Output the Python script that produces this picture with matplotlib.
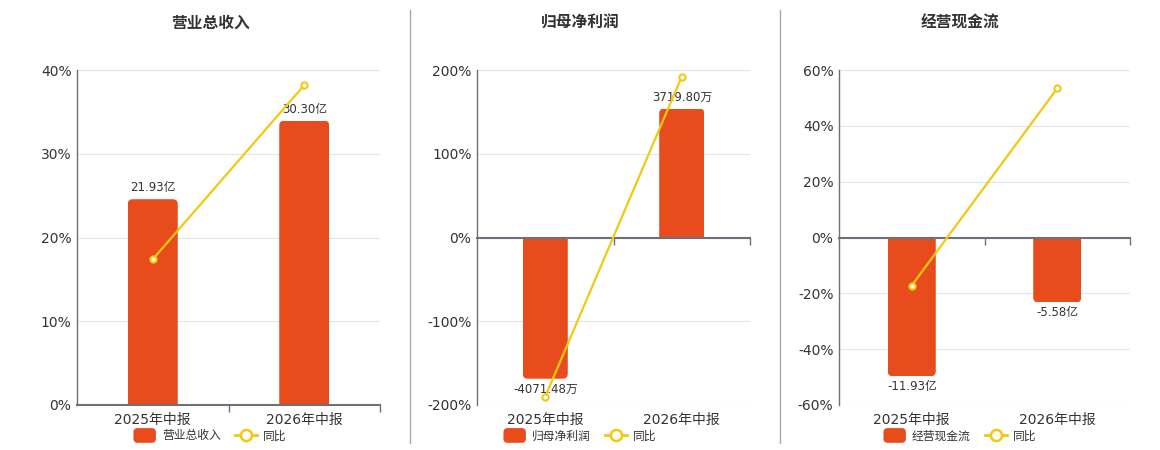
import matplotlib
matplotlib.use("Agg")
import matplotlib.pyplot as plt
from matplotlib.patches import FancyBboxPatch, Patch
from matplotlib.legend_handler import HandlerPatch
from matplotlib.lines import Line2D

plt.rcParams['font.family'] = ['DejaVu Sans', 'Noto Sans CJK SC']

# 数据
categories = ['2025年中报', '2026年中报']

revenue = [21.93, 30.30]          # 亿
revenue_yoy = [17.4, 38.2]        # %
profit = [-4071.48, 3719.80]      # 万
profit_yoy = [-190.0, 192.0]
cash = [-11.93, -5.58]            # 亿
cash_yoy = [-17.2, 53.4]

titles = ['营业总收入', '归母净利润', '经营现金流']
bar_labels = [['21.93亿', '30.30亿'], ['-4071.48万', '3719.80万'], ['-11.93亿', '-5.58亿']]
pct_ticks = [[0, 10, 20, 30, 40], [-200, -100, 0, 100, 200], [-60, -40, -20, 0, 20, 40, 60]]
pct_lims = [(0, 40), (-200, 200), (-60, 60)]
bar_lims = [(0, 35.7), (-4830, 4830), (-14.4, 14.4)]

BAR = '#E84B1C'
LINE = '#F2C811'
AXC = '#6E7079'
GRID = '#E0E6F1'
TXT = '#333333'

W, H = 1160, 450
fig = plt.figure(figsize=(W / 100, H / 100), dpi=100)

# position des axes en pixels (gauche, largeur) et centre du panneau
boxes = [(77, 303), (477, 273), (839, 291)]
centers = [210, 580, 960]
top_px, bot_px = 70, 405


def rounded_bars(axb, xs, vals, width, r_px=5):
    rects = axb.bar(xs, vals, width=width, color=BAR, alpha=0)
    p0 = axb.transData.transform((0, 0))
    p1 = axb.transData.transform((1, 1))
    sx, sy = p1[0] - p0[0], p1[1] - p0[1]
    r = r_px / sx
    ext = 2 * r_px / sy
    for rc, v in zip(rects, vals):
        x, y, w, h = rc.get_x(), rc.get_y(), rc.get_width(), rc.get_height()
        if h < 0:
            y, h = y + h, -h
        # on prolonge au-delà de zéro puis on coupe : coins carrés côté zéro
        if v >= 0:
            y, h = y - ext, h + ext
        else:
            h = h + ext
        p = FancyBboxPatch((x, y), w, h,
                           boxstyle=f'round,pad=0,rounding_size={r}',
                           mutation_aspect=sx / sy,
                           facecolor=BAR, edgecolor='none')
        axb.add_patch(p)
        p.set_clip_path(rc)
    return rects


class HandlerRound(HandlerPatch):
    def create_artists(self, legend, orig_handle, xdescent, ydescent, width, height,
                       fontsize, trans):
        p = FancyBboxPatch((-xdescent, -ydescent - 1.5), width, height + 3,
                           boxstyle='round,pad=0,rounding_size=3',
                           facecolor=orig_handle.get_facecolor(), edgecolor='none',
                           transform=trans)
        return [p]


series = [(revenue, revenue_yoy), (profit, profit_yoy), (cash, cash_yoy)]
xs = [0, 1]

for k in range(3):
    left, width = boxes[k]
    rect = [left / W, 1 - bot_px / H, width / W, (bot_px - top_px) / H]
    ax = fig.add_axes(rect)
    ax.set_xlim(-0.5, 1.5)
    ax.set_ylim(*pct_lims[k])
    ax.set_yticks(pct_ticks[k])
    ax.set_yticklabels([f'{t}%' for t in pct_ticks[k]])
    ax.yaxis.grid(True, color=GRID, lw=0.8)
    ax.set_axisbelow(True)
    ax.tick_params(axis='y', length=0, pad=4, labelsize=10, labelcolor=TXT)
    for s in ['top', 'right', 'bottom']:
        ax.spines[s].set_visible(False)
    ax.spines['left'].set_color(AXC)
    ax.spines['left'].set_linewidth(1)

    # barres sur un axe caché
    axb = ax.twinx()
    axb.set_ylim(*bar_lims[k])
    axb.set_xlim(-0.5, 1.5)
    axb.axis('off')
    vals, yoy = series[k]
    rounded_bars(axb, xs, vals, 0.33)
    for x, v, lab in zip(xs, vals, bar_labels[k]):
        if v >= 0:
            axb.annotate(lab, (x, v), xytext=(0, 5), textcoords='offset pixels',
                         ha='center', va='bottom', fontsize=8.5, color=TXT)
        else:
            axb.annotate(lab, (x, v), xytext=(0, -4), textcoords='offset pixels',
                         ha='center', va='top', fontsize=8.5, color=TXT)

    # ligne de croissance + axe des catégories à zéro
    axl = ax.twinx()
    axl.set_ylim(*pct_lims[k])
    axl.set_xlim(-0.5, 1.5)
    axl.set_yticks([])
    axl.xaxis.set_visible(True)
    for s in ['top', 'right', 'left']:
        axl.spines[s].set_visible(False)
    axl.spines['bottom'].set_visible(True)
    axl.spines['bottom'].set_position(('data', 0))
    axl.spines['bottom'].set_color(AXC)
    axl.spines['bottom'].set_linewidth(1.5)
    axl.set_xticks([0.5, 1.5])
    axl.set_xticklabels([])
    axl.tick_params(axis='x', bottom=True, length=5, color=AXC, width=1)
    ax.tick_params(axis='x', bottom=False, labelbottom=False)
    axl.plot(xs, yoy, color=LINE, lw=1.6, marker='o', ms=4.5,
             mfc='white', mec=LINE, mew=1.5, zorder=5)

    tr = ax.get_xaxis_transform()
    for x, c in zip(xs, categories):
        ax.text(x, -15 / (bot_px - top_px), c, transform=tr, ha='center', va='center',
                fontsize=10, color=TXT)

    cx = centers[k] / W
    fig.text(cx, 1 - 23 / H, titles[k], ha='center', va='center', fontsize=11.3,
             fontweight='bold', color=TXT, family=['Noto Sans CJK SC'])

    handles = [Patch(facecolor=BAR, edgecolor='none', label=titles[k]),
               Line2D([], [], color=LINE, lw=2, marker='o', ms=8, mfc='white',
                      mec=LINE, mew=1.8, label='同比')]
    fig.legend(handles=handles, loc='center', bbox_to_anchor=(cx, 1 - 436 / H),
               ncol=2, frameon=False, fontsize=8.5, handlelength=1.9, handleheight=1.0,
               columnspacing=1.2, handletextpad=0.5, labelcolor=TXT,
               handler_map={Patch: HandlerRound()})

# séparateurs
for xp in [410, 780]:
    fig.add_artist(Line2D([xp / W, xp / W], [1 - 443 / H, 1 - 10 / H],
                          color='#AAAAAA', lw=1))

fig.savefig('out.png', dpi=100)
